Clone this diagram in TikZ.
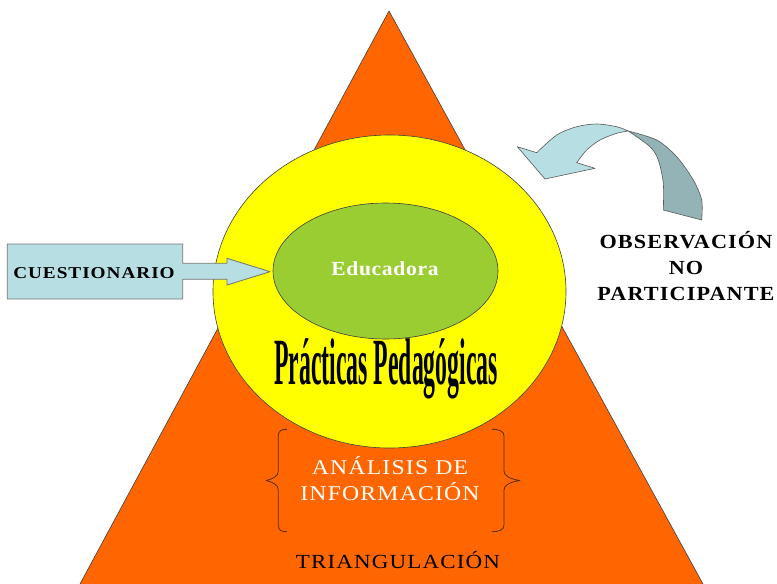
\documentclass[tikz,border=0pt]{standalone}
\usepackage{fontspec}
\setmainfont{Liberation Serif}
\usetikzlibrary{shapes.geometric}
\definecolor{triorange}{HTML}{FF6600}
\definecolor{ringyellow}{HTML}{FFFF00}
\definecolor{coregreen}{HTML}{9ACD32}
\definecolor{paleblue}{HTML}{B7DEE3}
\definecolor{darkteal}{HTML}{93B3B6}
\definecolor{bracebrown}{HTML}{5A2D00}
\newcommand{\LS}[1]{\addfontfeatures{LetterSpace=#1}}
\begin{document}
\begin{tikzpicture}[x=1pt,y=-1pt,line join=round,
  outline/.style={draw=black!75,line width=0.6pt},
  bracestyle/.style={draw=bracebrown,line width=0.8pt},
  lbl/.style={anchor=base,inner sep=0pt,align=center}]
\useasboundingbox (0,0) rectangle (777,584);

% triangle
\fill[triorange] (389,11) -- (703,584) -- (80,584) -- cycle;
\draw[outline] (80,584) -- (389,11) -- (703,584);

% ellipses
\node[ellipse,fill=ringyellow,outline,minimum width=353pt,minimum height=313pt,inner sep=0pt] (ring) at (389.5,291.5) {};
\node[ellipse,fill=coregreen,outline,minimum width=225pt,minimum height=136pt,inner sep=0pt] (core) at (385.5,271) {};

\node[lbl,text=white] (edu) at (385,275) {\scalebox{1.08}[1]{\bfseries\fontsize{20}{24}\selectfont\LS{3}Educadora}};

\node[lbl] (prac) at (386,384) {\scalebox{0.36}[1]{\bfseries\fontsize{66}{66}\selectfont Prácticas Pedagógicas}};

% cuestionario arrow box
\filldraw[fill=paleblue,draw=black!55,line width=0.8pt]
  (7.3,244) -- (182.7,244) -- (182.7,263.3) -- (227,263.3) -- (227,258.3) -- (270,271.7)
  -- (227,285) -- (227,279.3) -- (182.7,279.3) -- (182.7,299) -- (7.3,299) -- cycle;
\node[lbl] (cues) at (94,278) {\scalebox{1.16}[1]{\bfseries\fontsize{16.6}{20}\selectfont\LS{5}CUESTIONARIO}};

% curved arrow
\filldraw[fill=paleblue,draw=black!65,line width=0.6pt]
  (517.3,146.7) -- (536.7,152.7)
  -- plot[smooth] coordinates {(536.7,152.7) (556.7,135) (576.7,126.7) (596.7,124) (616.7,126.7) (628.3,131)}
  -- plot[smooth] coordinates {(628.3,131) (616.7,133.3) (600,140) (586.7,150) (576.7,162.7)}
  -- (595,168.3) -- (545,179) -- cycle;
\filldraw[fill=darkteal,draw=black!65,line width=0.6pt]
  plot[smooth] coordinates {(628.3,131) (656.7,140) (676.7,156.7) (693.3,180) (701.7,200) (701.7,220)}
  -- (663.3,210)
  -- plot[smooth] coordinates {(663.3,210) (663.3,183.3) (658.3,160) (650,146.7) (628.3,131)}
  -- cycle;

\node[lbl] (obs) at (686,248.5) {\scalebox{1.11}[1]{\bfseries\fontsize{20}{26}\selectfont\LS{5}\begin{tabular}[t]{@{}c@{}}OBSERVACIÓN\\NO\\PARTICIPANTE\end{tabular}}};

% braces
\draw[bracestyle] (287,429.3) .. controls (281,429.3) and (278.3,431) .. (278.3,436)
  -- (278.3,471) .. controls (278.3,476) and (273,479) .. (266,480.5)
  .. controls (273,482) and (278.3,485) .. (278.3,490)
  -- (278.3,525) .. controls (278.3,530) and (281,531.7) .. (287,531.7);
\draw[bracestyle] (492,429.3) .. controls (499,429.3) and (504,431) .. (504,436)
  -- (504,471) .. controls (504,476) and (510,479) .. (520,480.5)
  .. controls (510,482) and (504,485) .. (504,490)
  -- (504,525) .. controls (504,530) and (499,531.7) .. (492,531.7);

\node[lbl,text=white] (ana) at (390,474) {\scalebox{1.13}[1]{\fontsize{21}{26}\selectfont\LS{5}\begin{tabular}[t]{@{}c@{}}ANÁLISIS DE\\INFORMACIÓN\end{tabular}}};

\node[lbl] (tri) at (398,568) {\scalebox{1.15}[1]{\fontsize{20}{24}\selectfont\LS{5}TRIANGULACIÓN}};
\end{tikzpicture}
\end{document}
